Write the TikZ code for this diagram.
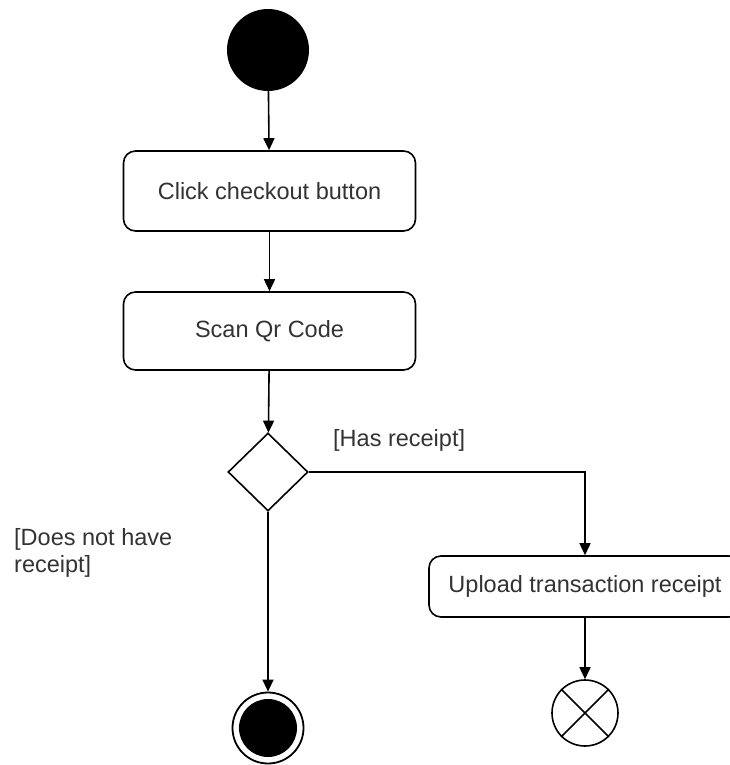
\documentclass[tikz,border=0pt]{standalone}
\usepackage{fontspec}
\setmainfont{Liberation Sans}
\usetikzlibrary{arrows.meta,shapes.geometric}
\definecolor{txt}{HTML}{333333}
\tikzset{
  every node/.style={font=\fontsize{23.5}{27}\selectfont, text=txt},
  actbox/.style={draw=black, line width=1.6pt, rounded corners=12pt, fill=white, align=center, inner sep=0pt},
  flow/.style={draw=black, line width=1.6pt, -{Triangle[length=12pt,width=11pt]}},
  guard/.style={align=left, inner sep=0pt, anchor=west}
}
\begin{document}
\begin{tikzpicture}[x=1pt,y=-1pt]
\useasboundingbox (0,0) rectangle (729,765);
\node[circle, fill=black, minimum size=82pt, inner sep=0pt] (start) at (268,50) {};
\node[actbox, minimum width=292pt, minimum height=80pt] (click) at (269.5,191) {Click checkout button};
\node[actbox, minimum width=292pt, minimum height=78pt] (scan) at (269.5,331) {Scan Qr Code};
\node[diamond, draw=black, line width=1.6pt, minimum width=80pt, minimum height=78pt, inner sep=0pt, aspect=1] (dec) at (268,472) {};
\node[actbox, minimum width=312pt, minimum height=61pt] (upload) at (585,586.5) {Upload transaction receipt};
\node[circle, draw=black, line width=1.6pt, minimum size=66pt, inner sep=0pt] (flowend) at (585,713) {};
\draw[line width=1.6pt] (flowend.north east) -- (flowend.south west) (flowend.north west) -- (flowend.south east);
\node[circle, draw=black, line width=1.8pt, minimum size=71pt, inner sep=0pt] (final) at (268,728) {};
\node[circle, fill=black, minimum size=58pt, inner sep=0pt] (finalin) at (final.center) {};
\coordinate (corner) at (585,472);
\draw[flow] (start) -- (click);
\draw[flow] (click) -- (scan);
\draw[flow] (scan) -- (dec);
\draw[flow] (dec.east) -- (corner) -- (upload.north);
\draw[flow] (dec.south) -- (final.north);
\draw[flow] (upload.south) -- (flowend.north);
\node[guard] (has) at (333,440) {[Has receipt]};
\node[guard] (hasnot) at (14,553) {[Does not have\\receipt]};
\end{tikzpicture}
\end{document}
